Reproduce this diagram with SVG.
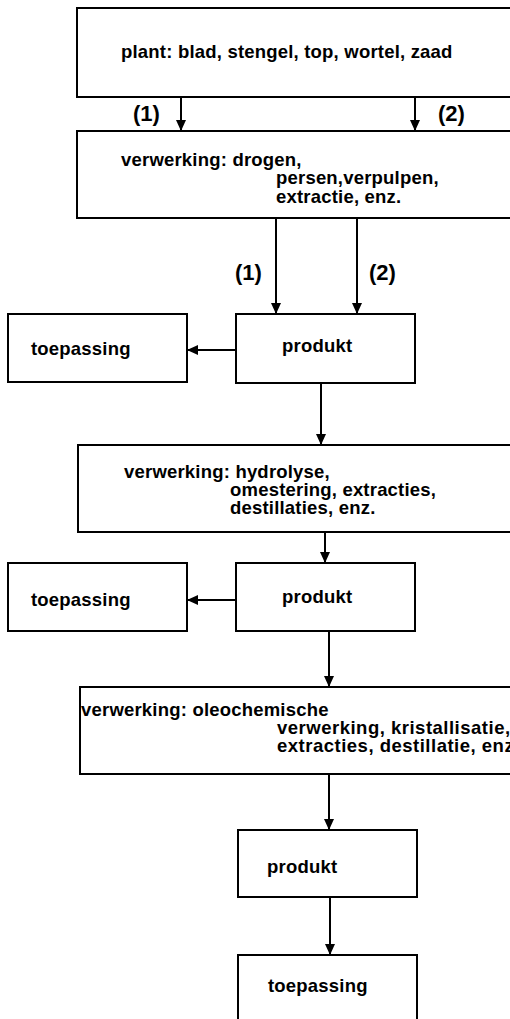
<svg xmlns="http://www.w3.org/2000/svg" width="510" height="1019" viewBox="0 0 510 1019">
<defs>
<marker id="ah" markerUnits="userSpaceOnUse" markerWidth="12" markerHeight="10" refX="11" refY="5" orient="auto">
<path d="M0,0 L11,5 L0,10 z" fill="#000"/>
</marker>
<style>
.box{fill:#fff;stroke:#000;stroke-width:2}
.t{font-family:"Liberation Sans",Arial,sans-serif;font-weight:bold;font-size:18.5px;letter-spacing:0.2px;fill:#000}
.w{letter-spacing:0.5px}
.lbl{font-family:"Liberation Sans",Arial,sans-serif;font-weight:bold;font-size:22px;fill:#000}
.c{stroke:#000;stroke-width:2;fill:none;marker-end:url(#ah)}
</style>
</defs>
<rect width="510" height="1019" fill="#fff"/>
<g id="connectors">
<line class="c" x1="181" y1="97" x2="181" y2="131"/>
<line class="c" x1="415" y1="97" x2="415" y2="131"/>
<line class="c" x1="276" y1="218" x2="276" y2="314"/>
<line class="c" x1="357" y1="218" x2="357" y2="314"/>
<line class="c" x1="236" y1="350" x2="187" y2="350"/>
<line class="c" x1="321" y1="383" x2="321" y2="445"/>
<line class="c" x1="325" y1="532" x2="325" y2="563"/>
<line class="c" x1="236" y1="600" x2="187" y2="600"/>
<line class="c" x1="329" y1="631" x2="329" y2="687"/>
<line class="c" x1="329" y1="774" x2="329" y2="830"/>
<line class="c" x1="330" y1="897" x2="330" y2="955"/>
<text class="lbl" x="133" y="121">(1)</text>
<text class="lbl" x="438" y="121">(2)</text>
<text class="lbl" x="235" y="280">(1)</text>
<text class="lbl" x="369" y="280">(2)</text>
</g>
<g id="plant">
<rect class="box" x="77" y="8" width="450" height="89"/>
<text class="t" x="121" y="58">plant: blad, stengel, top, wortel, zaad</text>
</g>
<g id="verwerking1">
<rect class="box" x="77" y="131" width="450" height="87"/>
<text class="t" x="121" y="166">verwerking: drogen,</text>
<text class="t" x="276" y="184">persen,verpulpen,</text>
<text class="t" x="276" y="203">extractie, enz.</text>
</g>
<g id="produkt1">
<rect class="box" x="236" y="314" width="179" height="69"/>
<text class="t" x="282" y="352">produkt</text>
</g>
<g id="toepassing1">
<rect class="box" x="8" y="314" width="179" height="68"/>
<text class="t" x="31" y="355">toepassing</text>
</g>
<g id="verwerking2">
<rect class="box" x="78" y="445" width="450" height="87"/>
<text class="t" x="124" y="478">verwerking: hydrolyse,</text>
<text class="t" x="230" y="496">omestering, extracties,</text>
<text class="t" x="230" y="514">destillaties, enz.</text>
</g>
<g id="produkt2">
<rect class="box" x="236" y="563" width="179" height="68"/>
<text class="t" x="282" y="603">produkt</text>
</g>
<g id="toepassing2">
<rect class="box" x="8" y="563" width="179" height="68"/>
<text class="t" x="31" y="606">toepassing</text>
</g>
<g id="verwerking3">
<rect class="box" x="80" y="687" width="450" height="87"/>
<text class="t" x="81" y="716">verwerking: oleochemische</text>
<text class="t w" x="277" y="734">verwerking, kristallisatie,</text>
<text class="t w" x="277" y="752">extracties, destillatie, enz</text>
</g>
<g id="produkt3">
<rect class="box" x="238" y="830" width="179" height="67"/>
<text class="t" x="267" y="873">produkt</text>
</g>
<g id="toepassing3">
<rect class="box" x="238" y="955" width="179" height="80"/>
<text class="t" x="268" y="992">toepassing</text>
</g>
</svg>
